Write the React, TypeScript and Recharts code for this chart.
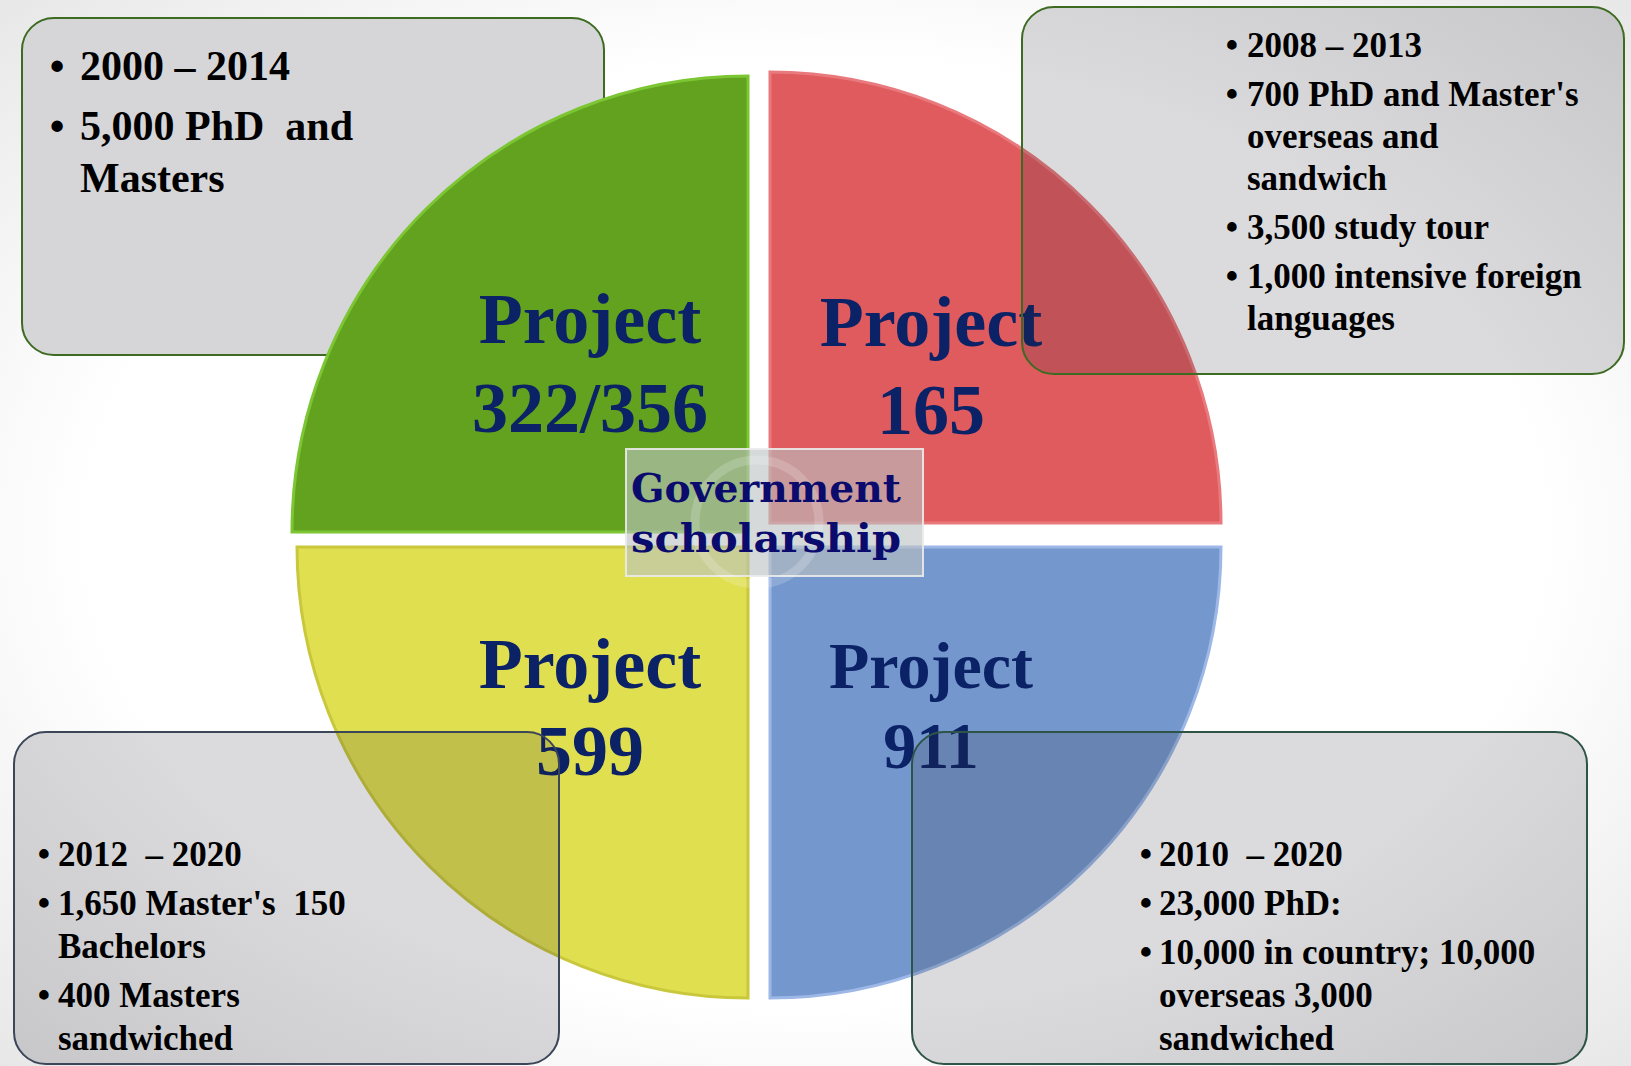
import React from "react";
import { PieChart, Pie, Cell } from "recharts";

// quadrant labels and shares (four equal quarters)
const projects = ["322/356", "165", "599", "911"];
const shares = [1, 1, 1, 1];
const quadColors = ["#62a21f", "#e05b5e", "#e0df4f", "#7497cd"];
const quadEdges = ["#7cc633", "#e87a7d", "#c9c83c", "#9db8e6"];
const centerTitle = ["Government", "scholarship"];

// bullet notes per project, each bullet is a list of wrapped lines
const notes322 = [["2000 – 2014"], ["5,000 PhD  and", "Masters"]];
const notes165 = [
  ["2008 – 2013"],
  ["700 PhD and Master's", "overseas and", "sandwich"],
  ["3,500 study tour"],
  ["1,000 intensive foreign", "languages"],
];
const notes599 = [
  ["2012  – 2020"],
  ["1,650 Master's  150", "Bachelors"],
  ["400 Masters", "sandwiched"],
];
const notes911 = [
  ["2010  – 2020"],
  ["23,000 PhD:"],
  ["10,000 in country; 10,000", "overseas 3,000", "sandwiched"],
];

const W = 1631;
const H = 1066;
const NAVY = "#0c2266";
const SERIF = "'Liberation Serif', 'Times New Roman', serif";

// geometry of each quarter: corner point, radius, angle range
const quads = [
  { cx: 748, cy: 532, r: 456, a0: 90, a1: 180, fs: 72, ty: [-189, -100] },
  { cx: 770, cy: 523, r: 451, a0: 0, a1: 90, fs: 72, ty: [-177, -89] },
  { cx: 748, cy: 547, r: 451, a0: 180, a1: 270, fs: 72, ty: [141, 228] },
  { cx: 770, cy: 547, r: 451, a0: 270, a1: 360, fs: 66, ty: [141, 221] },
];
const labelX = [590, 931, 590, 931];

type BoxCfg = {
  x: number; y: number; w: number; h: number; stroke: string;
  bx: number; tx: number; y0: number; fs: number; gap: number; wrap: number;
};

const NoteBox = ({ cfg, items, fill }: { cfg: BoxCfg; items: string[][]; fill: string }) => {
  const rows: React.ReactNode[] = [];
  let y = cfg.y0;
  items.forEach((lines, i) => {
    if (i > 0) y += cfg.gap;
    rows.push(
      <text key={`b${i}`} x={cfg.bx} y={y} textAnchor="middle" fontSize={cfg.fs} fontFamily={SERIF} fontWeight="bold" fill="#000">•</text>
    );
    lines.forEach((ln, j) => {
      if (j > 0) y += cfg.wrap;
      rows.push(
        <text key={`t${i}-${j}`} x={cfg.tx} y={y} fontSize={cfg.fs} fontFamily={SERIF} fontWeight="bold" fill="#000" style={{ whiteSpace: "pre" }}>
          {ln}
        </text>
      );
    });
  });
  return (
    <g>
      <rect x={cfg.x} y={cfg.y} width={cfg.w} height={cfg.h} rx={32} ry={32} fill={fill} stroke={cfg.stroke} strokeWidth={2} />
      {rows}
    </g>
  );
};

const box322: BoxCfg = { x: 22, y: 18, w: 582, h: 337, stroke: "#3d6b22", bx: 57, tx: 80, y0: 80, fs: 42, gap: 60, wrap: 52 };
const box165: BoxCfg = { x: 1022, y: 7, w: 602, h: 367, stroke: "#3d6b22", bx: 1232, tx: 1247, y0: 57, fs: 35, gap: 49, wrap: 42 };
const box599: BoxCfg = { x: 14, y: 732, w: 545, h: 332, stroke: "#3b4658", bx: 44, tx: 58, y0: 866, fs: 35, gap: 49, wrap: 43 };
const box911: BoxCfg = { x: 912, y: 732, w: 675, h: 332, stroke: "#2e5446", bx: 1146, tx: 1159, y0: 866, fs: 35, gap: 49, wrap: 43 };

const data = projects.map((name, i) => ({ name, value: shares[i] }));

export default function App() {
  const renderLabel = (i: number) => (props: any) => {
    const q = quads[i];
    const cy = typeof props.cy === "number" ? props.cy : q.cy;
    return (
      <g key={`lab${i}`}>
        <text x={labelX[i]} y={cy + q.ty[0]} textAnchor="middle" fontSize={q.fs} fontFamily={SERIF} fontWeight="bold" fill={NAVY}>
          Project
        </text>
        <text x={labelX[i]} y={cy + q.ty[1]} textAnchor="middle" fontSize={q.fs} fontFamily={SERIF} fontWeight="bold" fill={NAVY}>
          {props.name ?? projects[i]}
        </text>
      </g>
    );
  };

  return (
    <div style={{ position: "absolute", left: 0, top: 0, width: W, height: H, overflow: "hidden" }}>
      <svg width={W} height={H} style={{ position: "absolute", left: 0, top: 0 }}>
        <defs>
          <radialGradient id="bg" cx="50%" cy="50%" r="72%">
            <stop offset="62%" stopColor="#ffffff" />
            <stop offset="100%" stopColor="#e6e6e6" />
          </radialGradient>
        </defs>
        <rect x={0} y={0} width={W} height={H} fill="url(#bg)" />
        <NoteBox cfg={box322} items={notes322} fill="#d6d6d8" />
      </svg>
      <div style={{ position: "absolute", left: 0, top: 0 }}>
        <PieChart width={W} height={H} margin={{ top: 0, right: 0, bottom: 0, left: 0 }}>
          {quads.map((q, i) => (
            <Pie
              key={projects[i]}
              data={[data[i]]}
              dataKey="value"
              nameKey="name"
              cx={q.cx}
              cy={q.cy}
              innerRadius={0}
              outerRadius={q.r}
              startAngle={q.a0}
              endAngle={q.a1}
              stroke={quadEdges[i]}
              strokeWidth={3}
              label={renderLabel(i)}
              labelLine={false}
              isAnimationActive={false}
            >
              <Cell fill={quadColors[i]} />
            </Pie>
          ))}
        </PieChart>
      </div>
      <svg width={W} height={H} style={{ position: "absolute", left: 0, top: 0, pointerEvents: "none" }}>
        <NoteBox cfg={box165} items={notes165} fill="rgba(40,40,55,0.17)" />
        <NoteBox cfg={box599} items={notes599} fill="rgba(40,40,55,0.17)" />
        <NoteBox cfg={box911} items={notes911} fill="rgba(40,40,55,0.17)" />
        <rect x={626} y={449} width={297} height={127} fill="rgba(188,194,194,0.62)" stroke="rgba(235,235,235,0.9)" strokeWidth={2} />
        <circle cx={757} cy={522} r={62} fill="none" stroke="rgba(255,255,255,0.18)" strokeWidth={9} />
        {centerTitle.map((t, i) => (
          <text key={t} x={766} y={502 + i * 50} textAnchor="middle" fontSize={39} fontFamily="'DejaVu Serif', serif" fontWeight="bold" fill="#0b0b6e" textLength={270} lengthAdjust="spacingAndGlyphs">
            {t}
          </text>
        ))}
      </svg>
    </div>
  );
}
